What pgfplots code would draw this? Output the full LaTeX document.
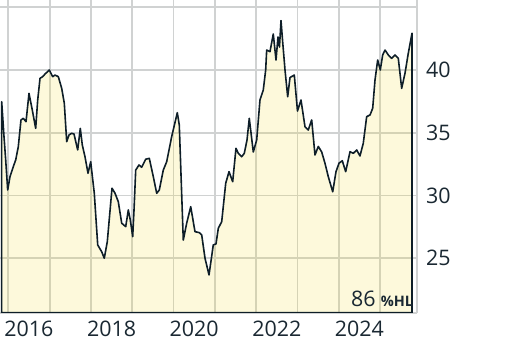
\documentclass[border=0pt]{standalone}
\usepackage{pgfplots}
\pgfplotsset{compat=1.18}
\usepackage{fontspec}
\setmainfont{Open Sans}
\definecolor{gridc}{RGB}{208,210,210}
\definecolor{linec}{RGB}{14,30,40}
\definecolor{fillc}{RGB}{240,220,30}
\definecolor{txtc}{RGB}{26,40,50}
\begin{document}
\begin{tikzpicture}
\begin{axis}[name=ax,
  at={(0bp,33.3bp)}, anchor=south west,
  scale only axis, width=417bp, height=312.7bp,
  xmin=2015.799, xmax=2025.896, ymin=20.66, ymax=45.58,
  axis x line*=bottom, axis y line*=right,
  axis line style={draw=gridc, line width=2bp, -},
  xtick={2016.5,2018.5,2020.5,2022.5,2024.5},
  xticklabels={2016,2018,2020,2022,2024},
  minor xtick={2016,2017,2018,2019,2020,2021,2022,2023,2024,2025},
  xmajorgrids=false, xminorgrids=true,
  ytick={25,30,35,40,45},
  yticklabels={25,30,35,40,{}},
  ymajorgrids=true,
  major tick length=0pt, minor tick length=0pt,
  grid style={draw=gridc, line width=1.8bp},
  minor grid style={draw=gridc, line width=1.8bp},
  tick label style={font=\fontsize{21.5}{24}\selectfont, text=txtc},
  xticklabel style={anchor=base, yshift=-24bp, inner sep=0pt},
  yticklabel style={anchor=west, inner sep=0pt, xshift=9bp},
  /pgf/number format/assume math mode=true,
]
\addplot[draw=linec, line width=1.6bp, line join=round, fill=fillc, fill opacity=0.16, draw opacity=1] coordinates {
(2015.840,37.47) (2015.896,34.69) (2015.937,32.83) (2015.985,30.44) (2016.041,31.50)
(2016.121,32.30) (2016.179,32.83) (2016.242,33.89) (2016.307,36.02) (2016.363,36.15)
(2016.429,35.88) (2016.501,38.14) (2016.581,36.81) (2016.663,35.35) (2016.712,37.61)
(2016.768,39.34) (2016.833,39.47) (2016.889,39.68) (2016.993,40.00) (2017.075,39.47)
(2017.131,39.60) (2017.211,39.47) (2017.293,38.54) (2017.356,37.35) (2017.414,34.29)
(2017.470,34.82) (2017.535,34.96) (2017.591,34.90) (2017.680,33.63) (2017.743,35.35)
(2017.792,34.02) (2017.857,33.09) (2017.930,31.77) (2017.995,32.69) (2018.082,30.18)
(2018.165,26.06) (2018.261,25.52) (2018.324,25.00) (2018.397,26.32) (2018.511,30.58)
(2018.584,30.18) (2018.663,29.51) (2018.746,27.79) (2018.843,27.52) (2018.906,28.85)
(2018.954,28.05) (2019.012,26.72) (2019.044,28.85) (2019.085,32.03) (2019.165,32.43)
(2019.230,32.25) (2019.327,32.89) (2019.414,32.96) (2019.511,31.50) (2019.593,30.18)
(2019.656,30.44) (2019.753,32.03) (2019.835,32.69) (2019.956,34.69) (2020.092,36.60)
(2020.140,35.62) (2020.237,26.45) (2020.319,27.79) (2020.417,29.11) (2020.520,27.12)
(2020.625,27.04) (2020.683,26.85) (2020.763,25.00) (2020.860,23.67) (2020.963,26.06)
(2021.029,26.14) (2021.085,27.39) (2021.167,27.91) (2021.264,30.97) (2021.344,31.90)
(2021.433,31.10) (2021.513,33.76) (2021.569,33.36) (2021.651,33.09) (2021.714,33.36)
(2021.780,34.42) (2021.835,36.15) (2021.932,33.47) (2022.014,34.42) (2022.094,37.61)
(2022.174,38.41) (2022.232,40.00) (2022.256,41.59) (2022.336,41.46) (2022.416,42.87)
(2022.482,40.80) (2022.530,42.63) (2022.566,41.83) (2022.603,43.94) (2022.644,42.23)
(2022.700,40.00) (2022.765,37.87) (2022.821,39.40) (2022.925,39.60) (2023.002,36.73)
(2023.087,37.61) (2023.184,35.48) (2023.264,35.22) (2023.346,36.02) (2023.426,33.23)
(2023.506,33.91) (2023.588,33.47) (2023.668,32.57) (2023.748,31.50) (2023.855,30.30)
(2023.935,31.90) (2024.007,32.57) (2024.087,32.77) (2024.169,31.90) (2024.274,33.49)
(2024.353,33.36) (2024.436,33.63) (2024.515,33.15) (2024.595,34.16) (2024.677,36.28)
(2024.759,36.42) (2024.823,36.95) (2024.879,39.20) (2024.944,40.80) (2025.007,40.00)
(2025.065,41.20) (2025.121,41.59) (2025.201,41.20) (2025.283,40.93) (2025.363,41.20)
(2025.443,40.93) (2025.525,38.54) (2025.605,39.74) (2025.685,41.33) (2025.775,42.93)
} \closedcycle;
\end{axis}
\node[anchor=base east, inner sep=0pt, text=txtc] at (375.7bp,39.3bp) {\fontsize{21.5}{24}\selectfont 86};
\node[anchor=base west, inner sep=0pt, text=txtc] at (380.7bp,39.3bp) {\fontsize{14.5}{16}\selectfont\bfseries \%HL};
\pgfresetboundingbox
\path[use as bounding box] (0bp,0bp) rectangle (512bp,346bp);
\end{tikzpicture}
\end{document}
